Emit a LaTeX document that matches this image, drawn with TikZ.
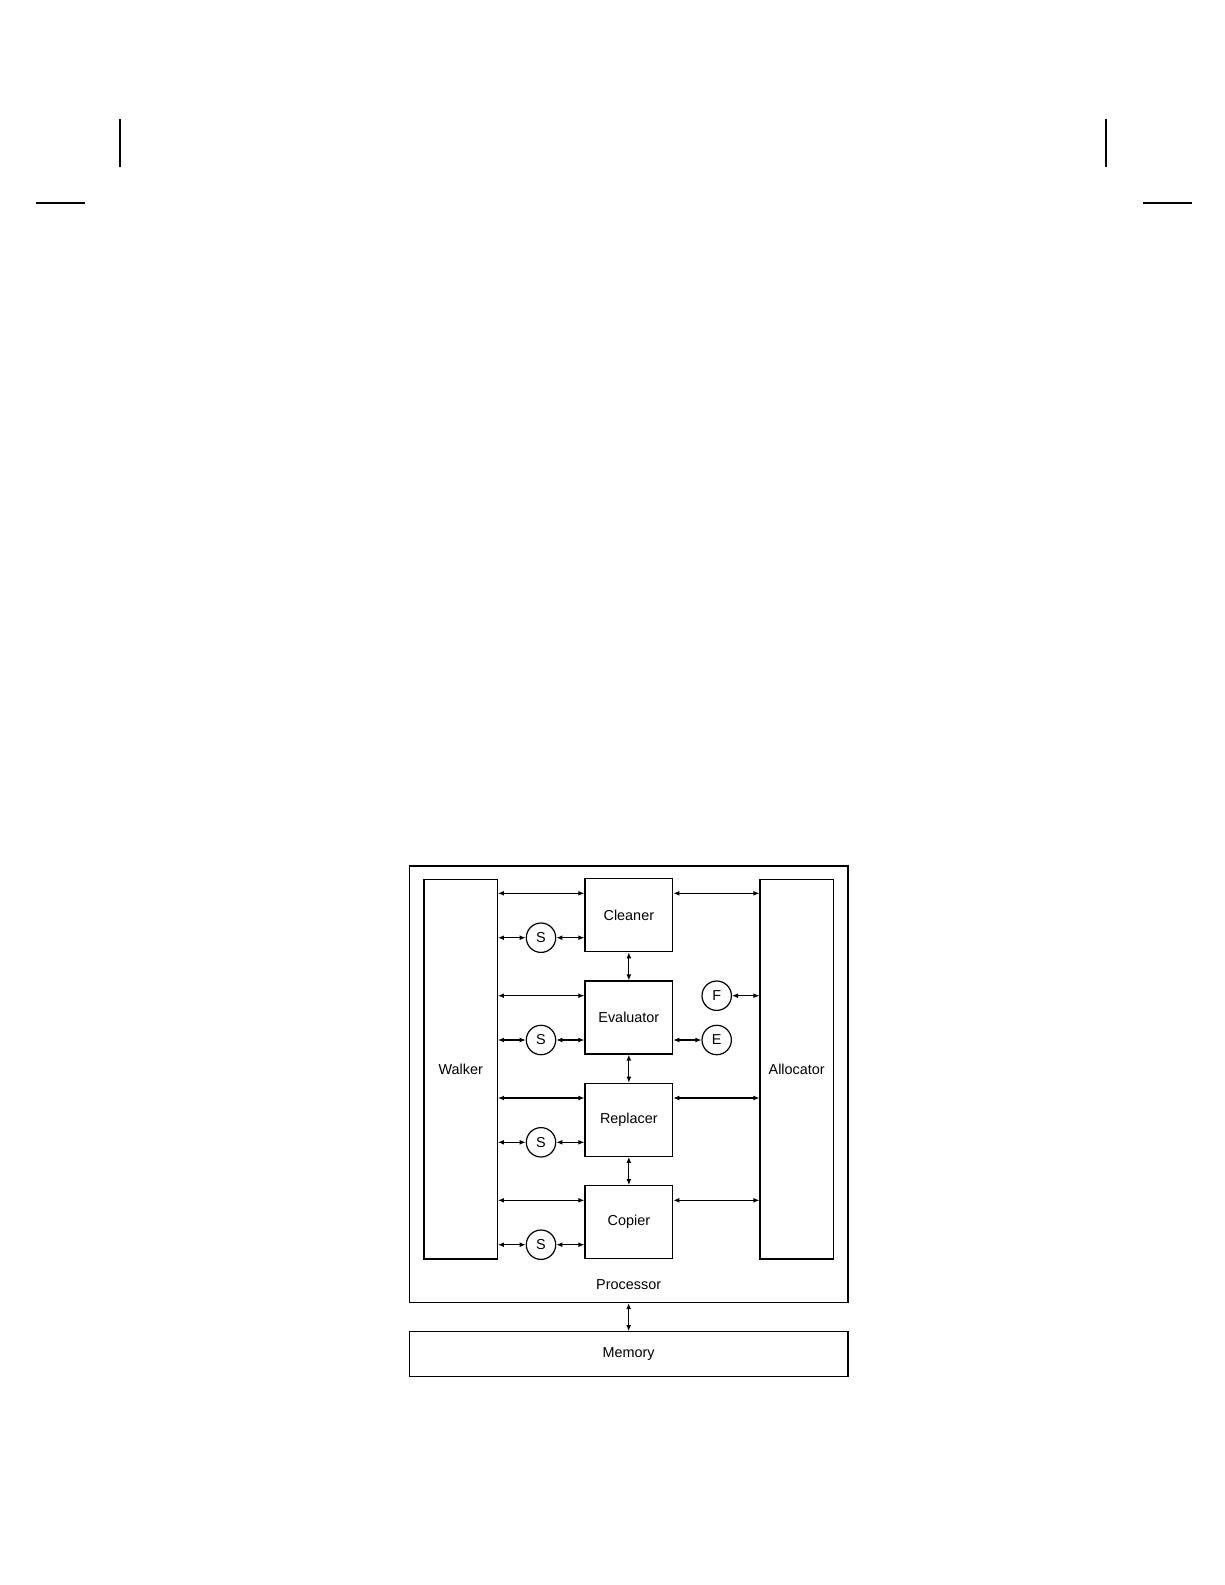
\documentclass[tikz,border=0pt]{standalone}
\usepackage{fontspec}
\setmainfont{Liberation Sans}
\usetikzlibrary{arrows.meta}
\begin{document}
\begin{tikzpicture}[x=0.5pt,y=-0.5pt,
  box/.style={draw,line width=0.6pt,inner sep=0pt,font=\fontsize{7.2}{8}\selectfont},
  circ/.style={draw,circle,line width=0.6pt,inner sep=0pt,minimum size=14.7pt,font=\fontsize{7.2}{8}\selectfont},
  biarrow/.style={line width=0.55pt,{Latex[length=3pt,width=2.4pt]}-{Latex[length=3pt,width=2.4pt]}},
  crop/.style={line width=1pt}]
\useasboundingbox (0,0) rectangle (1225,1585);
% crop marks
\draw[crop] (120,119) -- (120,167);
\draw[crop] (36,203) -- (85,203);
\draw[crop] (1106,119) -- (1106,167);
\draw[crop] (1143,203) -- (1192,203);
% boxes
\node[box,minimum width=219.35pt,minimum height=218.25pt] (proc) at (628.65,1084.25) {};
\node[font=\fontsize{7.2}{8}\selectfont] (proclabel) at (628.65,1284.3) {Processor};
\node[box,minimum width=219.35pt,minimum height=22.5pt] (mem) at (628.65,1354.2) {Memory};
\node[box,minimum width=36.65pt,minimum height=189.85pt] (walker) at (460.7,1069.2) {Walker};
\node[box,minimum width=36.65pt,minimum height=189.85pt] (alloc) at (796.7,1069.2) {Allocator};
\node[box,minimum width=43.85pt,minimum height=36.5pt] (clean) at (628.85,915.2) {Cleaner};
\node[box,minimum width=43.85pt,minimum height=36.5pt] (eval) at (628.85,1017.5) {Evaluator};
\node[box,minimum width=43.85pt,minimum height=36.5pt] (repl) at (628.85,1119.8) {Replacer};
\node[box,minimum width=43.85pt,minimum height=36.5pt] (copy) at (628.85,1222.2) {Copier};
% S circles
\node[circ] (s1) at (541,937.7) {S};
\node[circ] (s2) at (541,1040) {S};
\node[circ] (s3) at (541,1142.3) {S};
\node[circ] (s4) at (541,1244.7) {S};
\node[circ] (f) at (716.7,995.7) {F};
\node[circ] (e) at (716.7,1040) {E};
% row coordinates
\coordinate (r1) at (0,893.3);
\coordinate (r2) at (0,995.7);
\coordinate (r3) at (0,1098);
\coordinate (r4) at (0,1200.3);
% left rows
\draw[biarrow] (walker.east |- r1) -- (clean.west |- r1);
\draw[biarrow] (walker.east |- r2) -- (eval.west |- r2);
\draw[biarrow] (walker.east |- r3) -- (repl.west |- r3);
\draw[biarrow] (walker.east |- r4) -- (copy.west |- r4);
% right rows
\draw[biarrow] (clean.east |- r1) -- (alloc.west |- r1);
\draw[biarrow] (repl.east |- r3) -- (alloc.west |- r3);
\draw[biarrow] (copy.east |- r4) -- (alloc.west |- r4);
% S links
\draw[biarrow] (walker.east |- s1) -- (s1.west);
\draw[biarrow] (s1.east) -- (clean.west |- s1);
\draw[biarrow] (walker.east |- s2) -- (s2.west);
\draw[biarrow] (s2.east) -- (eval.west |- s2);
\draw[biarrow] (walker.east |- s3) -- (s3.west);
\draw[biarrow] (s3.east) -- (repl.west |- s3);
\draw[biarrow] (walker.east |- s4) -- (s4.west);
\draw[biarrow] (s4.east) -- (copy.west |- s4);
% F and E
\draw[biarrow] (f.east) -- (alloc.west |- f);
\draw[biarrow] (eval.east |- e) -- (e.west);
% vertical links
\draw[biarrow] (clean.south) -- (eval.north);
\draw[biarrow] (eval.south) -- (repl.north);
\draw[biarrow] (repl.south) -- (copy.north);
\draw[biarrow] (proc.south) -- (mem.north);
\end{tikzpicture}
\end{document}
